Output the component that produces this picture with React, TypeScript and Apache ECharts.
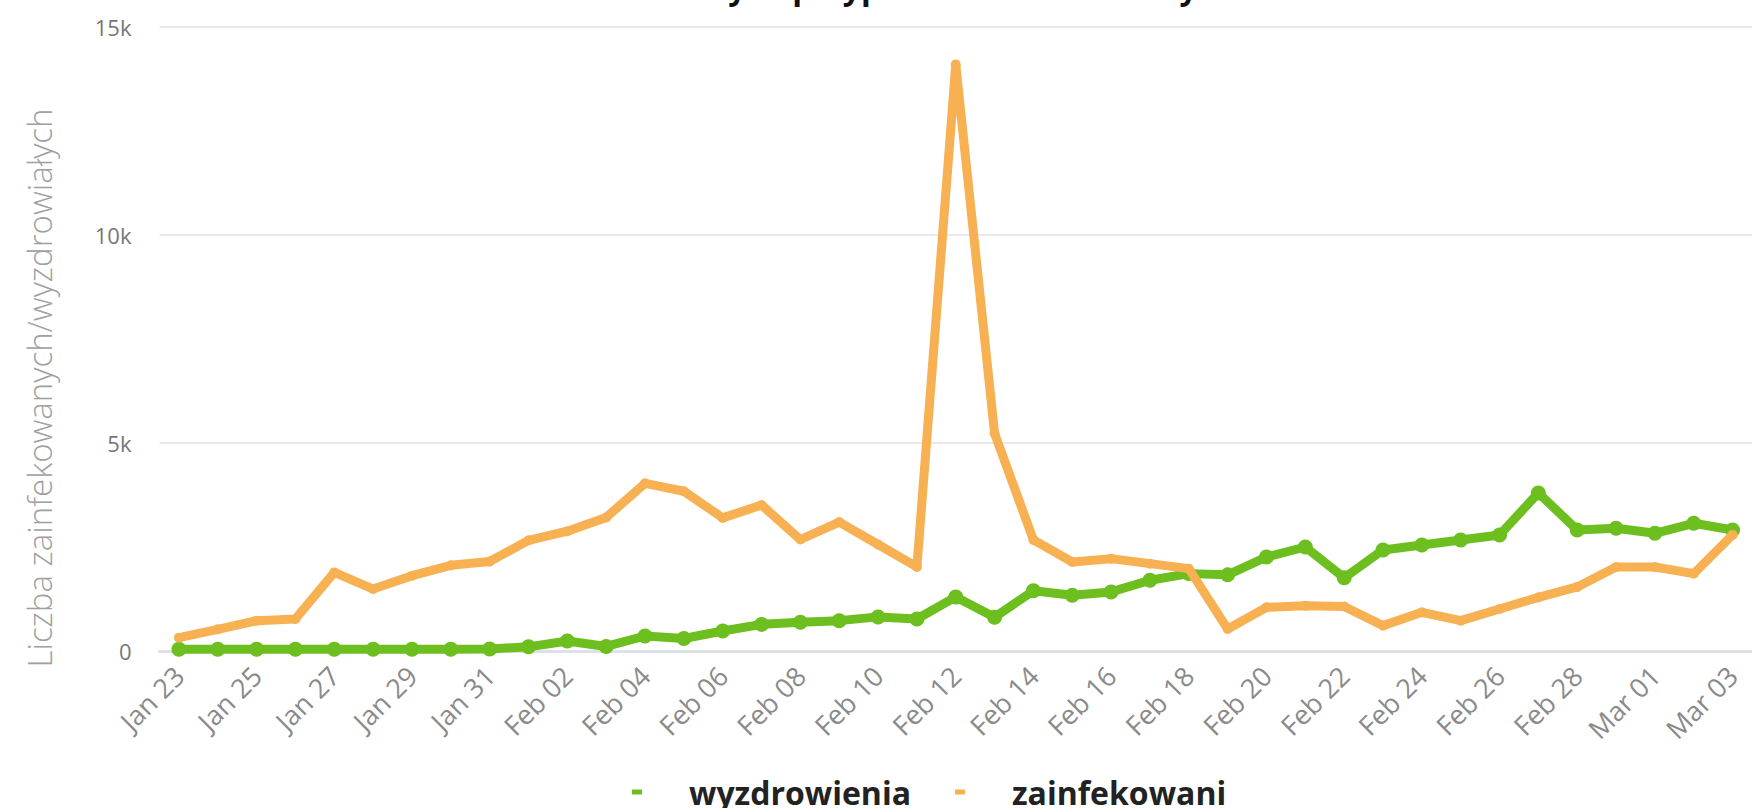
import React, { useEffect, useRef } from "react";
import * as echarts from "echarts";

const dates = [
  "Jan 23", "Jan 24", "Jan 25", "Jan 26", "Jan 27", "Jan 28", "Jan 29", "Jan 30", "Jan 31",
  "Feb 01", "Feb 02", "Feb 03", "Feb 04", "Feb 05", "Feb 06", "Feb 07", "Feb 08", "Feb 09", "Feb 10",
  "Feb 11", "Feb 12", "Feb 13", "Feb 14", "Feb 15", "Feb 16", "Feb 17", "Feb 18", "Feb 19", "Feb 20",
  "Feb 21", "Feb 22", "Feb 23", "Feb 24", "Feb 25", "Feb 26", "Feb 27", "Feb 28", "Feb 29",
  "Mar 01", "Mar 02", "Mar 03",
];

const recovered = [
  40, 40, 40, 40, 40, 40, 40, 40, 50,
  100, 240, 110, 360, 300, 480, 640, 690, 730, 820,
  770, 1300, 810, 1450, 1340, 1420, 1700, 1860, 1830, 2260,
  2500, 1760, 2430, 2550, 2670, 2790, 3800, 2910, 2950,
  2830, 3070, 2910,
];

const infected = [
  320, 520, 730, 770, 1890, 1490, 1810, 2060, 2150,
  2660, 2880, 3210, 4030, 3840, 3200, 3510, 2680, 3100, 2560,
  2020, 14100, 5230, 2670, 2140, 2220, 2100, 1980, 530, 1050,
  1090, 1070, 610, 930, 730, 1010, 1290, 1540, 2020,
  2020, 1860, 2790,
];

const seriesNames = ["wyzdrowienia", "zainfekowani"];
const titleText = "Dzienna liczba nowych przypadków zakażeń i wyzdrowień";
const yAxisTitle = "Liczba zainfekowanych/wyzdrowiałych";

export default function App() {
  const ref = useRef<HTMLDivElement>(null);
  useEffect(() => {
    const chart = echarts.init(ref.current!, null, { renderer: "svg" });
    chart.setOption({
      animation: false,
      backgroundColor: "#ffffff",
      grid: { left: 159.5, right: -4.5, top: 27, bottom: 157, containLabel: false },
      graphic: [
        {
          type: "text",
          x: 884,
          y: 2,
          style: {
            text: titleText,
            font: 'bold 32px "Open Sans"',
            fill: "#111111",
            align: "center",
            verticalAlign: "bottom",
          },
        },
        {
          type: "text",
          x: 39,
          y: 388,
          rotation: Math.PI / 2,
          style: {
            text: yAxisTitle,
            font: '300 33px "Open Sans"',
            fill: "#a0a0a0",
            align: "center",
            verticalAlign: "middle",
          },
        },
      ],
      legend: {
        data: seriesNames,
        left: 632,
        top: 776,
        padding: 0,
        icon: "rect",
        itemWidth: 10,
        itemHeight: 5,
        itemGap: 44,
        textStyle: {
          fontSize: 32,
          fontWeight: "bold",
          color: "#222222",
          fontFamily: "Open Sans",
          padding: [0, 0, 0, 42],
        },
      },
      xAxis: {
        type: "category",
        data: dates,
        boundaryGap: true,
        axisLine: { show: true, lineStyle: { color: "#dde1ea", width: 3 } },
        axisTick: { show: false },
        axisLabel: {
          interval: 1,
          rotate: 45,
          margin: 20,
          padding: [48, 0, 0, 0],
          color: "#8a8a8a",
          fontSize: 27,
          fontFamily: "Open Sans",
        },
        splitLine: { show: false },
      },
      yAxis: {
        type: "value",
        min: 0,
        max: 15000,
        interval: 5000,
        axisLine: { show: false },
        axisTick: { show: false },
        axisLabel: {
          margin: 28,
          color: "#777777",
          fontSize: 22,
          fontFamily: "Open Sans",
          formatter: (v: number) => (v === 0 ? "0" : v / 1000 + "k"),
        },
        splitLine: { lineStyle: { color: "#e9e9e9", width: 2 } },
      },
      series: [
        {
          name: seriesNames[0],
          type: "line",
          data: recovered,
          color: "#6cbf1f",
          symbol: "circle",
          symbolSize: 15,
          lineStyle: { width: 9, color: "#6cbf1f" },
          itemStyle: { color: "#6cbf1f" },
          z: 2,
        },
        {
          name: seriesNames[1],
          type: "line",
          data: infected,
          color: "#f7b152",
          symbol: "circle",
          symbolSize: 10,
          lineStyle: { width: 9, color: "#f7b152" },
          itemStyle: { color: "#f7b152" },
          z: 3,
        },
      ],
    });
    return () => chart.dispose();
  }, []);
  return (
    <div
      ref={ref}
      style={{ position: "fixed", left: 0, top: 0, width: 1752, height: 808 }}
    />
  );
}
